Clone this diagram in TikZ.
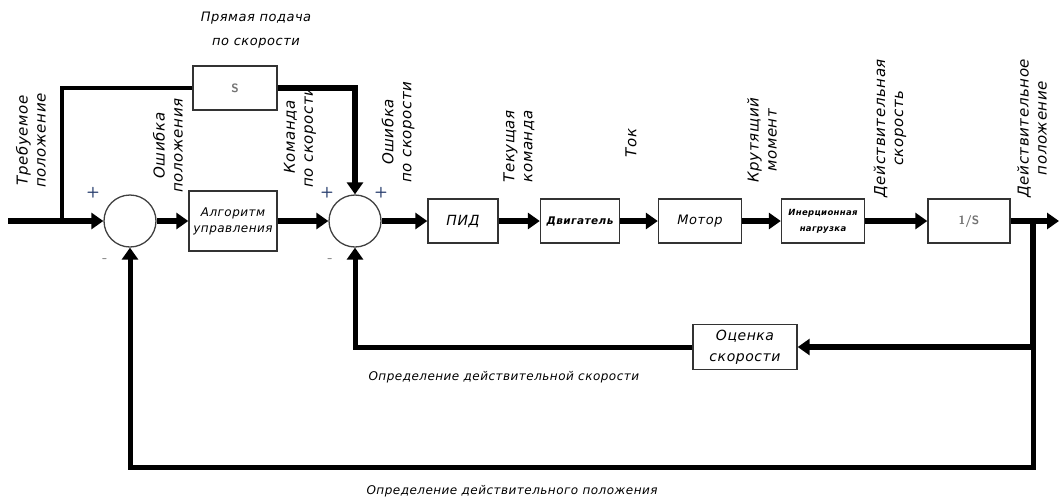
\documentclass[tikz,border=0pt]{standalone}
\usepackage{fontspec}
\newfontfamily\gost{DejaVu Sans}[LetterSpace=4]
\usetikzlibrary{arrows.meta}
\definecolor{plusblue}{RGB}{40,62,110}
\tikzset{
    blk/.style={draw=black!80, line width=1.4pt, fill=white, inner sep=1pt, align=center, minimum height=44pt},
    sum/.style={draw=black!75, circle, line width=1.3pt, minimum size=52pt, inner sep=0pt},
    sig/.style={line width=5.5pt, -{Triangle[length=12pt,width=16pt]}},
    fb/.style={line width=4.5pt},
    lbl/.style={font=\gost\itshape\fontsize{15}{18}\selectfont, align=center},
    vlbl/.style={lbl, rotate=90, anchor=west},
    sgn/.style={font=\sffamily\bfseries\fontsize{15}{15}\selectfont}
}
\begin{document}
\begin{tikzpicture}[x=1pt,y=-1pt]
    \useasboundingbox (0,0) rectangle (1059,499);

    \coordinate (in) at (8,221);
    \coordinate (tap) at (62,221);
    \coordinate (pick) at (1033,221);
    \coordinate (corner) at (1033,467);
    \coordinate (out) at (1059,221);

    \node[sum] (sum1) at (130,221) {};
    \node[sum] (sum2) at (355,221) {};

    \node[blk, minimum width=84pt, font=\sffamily\bfseries\fontsize{12}{12}\selectfont, text=black!55] (ff) at (235,88) {S};
    \node[blk, minimum width=88pt, minimum height=60pt, font=\gost\itshape\fontsize{12}{16}\selectfont] (alg) at (233,221) {Алгоритм\\управления};
    \node[blk, minimum width=70pt, font=\gost\itshape\fontsize{14}{16}\selectfont] (pid) at (463,221) {ПИД};
    \node[blk, minimum width=79pt, font=\gost\itshape\bfseries\fontsize{10.5}{12}\selectfont] (drv) at (580,221) {Двигатель};
    \node[blk, minimum width=83pt, font=\gost\itshape\fontsize{13}{15}\selectfont] (mot) at (700,221) {Мотор};
    \node[blk, minimum width=83pt, font=\gost\itshape\bfseries\fontsize{8.5}{16}\selectfont] (load) at (823,221) {Инерционная\\нагрузка};
    \node[blk, minimum width=82pt, font=\sffamily\bfseries\fontsize{12}{12}\selectfont, text=black!55] (integ) at (969,221) {1/S};
    \node[blk, minimum width=104pt, minimum height=45pt, font=\gost\itshape\fontsize{14}{21}\selectfont] (est) at (745,347) {Оценка\\скорости};

    \draw[sig] (in) -- (sum1);
    \draw[fb] (tap) |- (ff);
    \draw[sig] (ff) -| (sum2);
    \draw[sig] (sum1) -- (alg);
    \draw[sig] (alg) -- (sum2);
    \draw[sig] (sum2) -- (pid);
    \draw[sig] (pid) -- (drv);
    \draw[sig] (drv) -- (mot);
    \draw[sig] (mot) -- (load);
    \draw[sig] (load) -- (integ);
    \draw[sig] (integ) -- (out);
    \draw[sig] (pick) |- (est);
    \draw[sig, line width=5pt] (est) -| (sum2);
    \draw[sig, line width=5pt] (pick) -- (corner) -| (sum1);

    \node[sgn, text=plusblue] (p1) at (93,193) {+};
    \node[sgn, text=black!45] (m1) at (105,261) {-};
    \node[sgn, text=plusblue] (p2) at (327,193) {+};
    \node[sgn, text=plusblue] (p3) at (381,193) {+};
    \node[sgn, text=black!45] (m2) at (330,261) {-};

    \node[lbl, font=\gost\itshape\fontsize{13}{24}\selectfont] (fflbl) at (256,30) {Прямая подача\\по скорости};
    \node[vlbl] (l1) at (31,191) {Требуемое\\положение};
    \node[vlbl] (l2) at (168,196) {Ошибка\\положения};
    \node[vlbl] (l3) at (300,191) {Команда\\по скорости};
    \node[vlbl] (l4) at (398,186) {Ошибка\\по скорости};
    \node[vlbl] (l5) at (519,186) {Текущая\\команда};
    \node[vlbl] (l6) at (631,161) {Ток};
    \node[vlbl] (l7) at (762,186) {Крутящий\\момент};
    \node[vlbl] (l8) at (890,201) {Действительная\\скорость};
    \node[vlbl] (l9) at (1032,201) {Действительное\\положение};

    \node[lbl, anchor=west, font=\gost\itshape\fontsize{12}{14}\selectfont] (vlbl1) at (365,377) {Определение действительной скорости};
    \node[lbl, anchor=west, font=\gost\itshape\fontsize{12}{14}\selectfont] (vlbl2) at (363,491) {Определение действительного положения};
\end{tikzpicture}
\end{document}
